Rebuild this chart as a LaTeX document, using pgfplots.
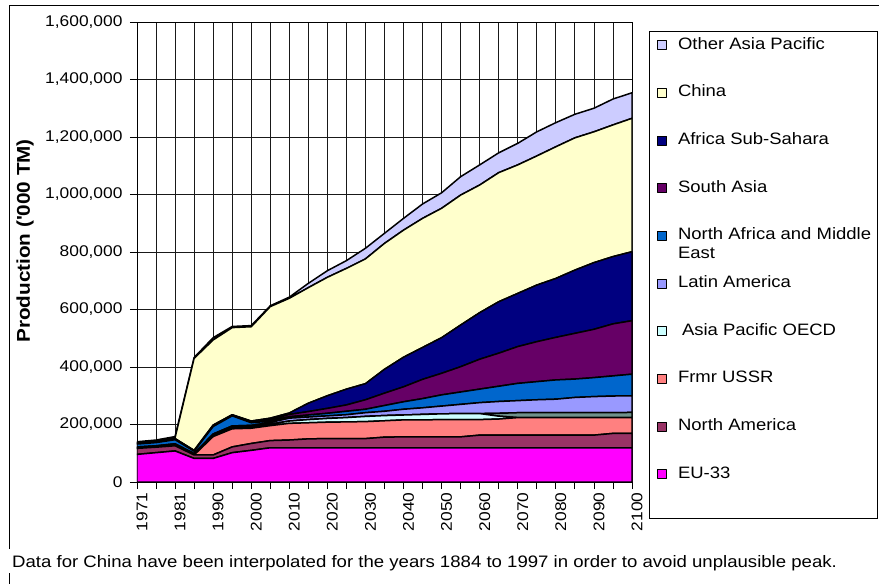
\documentclass[border=0pt]{standalone}
\usepackage{fontspec}
\setmainfont{Liberation Sans}[FakeStretch=1.12]
\usepackage{pgfplots}
\usepackage{pgfplotstable}
\pgfplotsset{compat=1.18}
\definecolor{cEU}{HTML}{FF00FF}
\definecolor{cNA}{HTML}{993366}
\definecolor{cUSSR}{HTML}{FF8080}
\definecolor{cAPO}{HTML}{CCFFFF}
\definecolor{cGREY}{HTML}{6F928C}
\definecolor{cLA}{HTML}{9999FF}
\definecolor{cNAME}{HTML}{0066CC}
\definecolor{cSA}{HTML}{660066}
\definecolor{cASS}{HTML}{000080}
\definecolor{cCHN}{HTML}{FFFFCC}
\definecolor{cOAP}{HTML}{CCCCFF}
\pgfplotstableread{
x EU NA USSR APO GREY LA NAME SA ASS CHN OAP
0 96000 21000 0 2000 0 3000 10000 2000 2000 2000 2000
1 102000 19000 0 2000 0 3000 11000 2000 2000 2000 3000
2 108000 18000 0 3000 0 4000 14000 2000 2000 3000 4000
3 82000 12000 0 2000 0 3000 8000 1000 2000 320000 3000
4 82000 12000 64000 4000 0 5000 26000 2000 3000 296000 8000
5 102000 20000 63000 5000 0 5000 35000 2000 2000 303000 4000
6 110000 24000 53000 5000 0 5000 9000 2000 4000 328000 4000
7 119000 25000 52000 5000 0 6000 5000 4000 6000 388000 3000
8 119000 27000 58000 8000 0 10000 5000 8000 5000 399000 4000
9 119000 31000 56000 11000 0 9000 7000 12000 29000 402000 15000
10 119000 32000 57000 13000 0 9000 9000 17000 44000 412000 23000
11 119000 32000 58000 15000 0 10000 12000 22000 55000 420000 27000
12 119000 32000 59000 18000 0 13000 12000 33000 56000 434000 37000
13 119000 37000 57000 18000 0 15000 20000 43000 83000 438000 35000
14 119000 38000 59000 17000 0 20000 26000 52000 103000 442000 41000
15 119000 38000 59000 19000 0 23000 32000 67000 111000 449000 50000
16 119000 38000 60000 20000 0 27000 39000 75000 124000 450000 54000
17 119000 38000 60000 21000 0 32000 43000 88000 145000 452000 64000
18 119000 44000 54000 21000 0 38000 47000 104000 162000 444000 70000
19 119000 44000 56000 10000 10000 41000 53000 115000 179000 449000 69000
20 119000 44000 61000 0 17000 42000 60000 128000 185000 447000 75000
21 119000 44000 61000 0 17000 45000 63000 139000 197000 449000 84000
22 119000 44000 61000 0 17000 47000 67000 148000 205000 458000 84000
23 119000 44000 61000 0 17000 53000 64000 159000 220000 460000 82000
24 119000 44000 61000 0 17000 56000 66000 168000 232000 455000 82000
25 119000 50000 55000 0 17000 58000 70000 181000 234000 458000 90000
26 119000 50000 55000 0 18000 58000 75000 186000 240000 464000 89000
}\data
\begin{document}
\begin{tikzpicture}
\begin{axis}[
  scale only axis, width=495pt, height=460pt,
  xmin=0, xmax=26, ymin=0, ymax=1600000,
  stack plots=y,
  xtick={0,...,26},
  xticklabels={1971,{},1981,{},1990,{},2000,{},2010,{},2020,{},2030,{},2040,{},2050,{},2060,{},2070,{},2080,{},2090,{},2100},
  ytick={0,200000,...,1600000},
  scaled y ticks=false,
  yticklabel style={/pgf/number format/fixed,/pgf/number format/1000 sep={,}, xshift=-4pt},
  /pgf/number format/assume math mode=true,
  tick label style={font=\fontsize{15.5}{18}\selectfont},
  x tick label style={rotate=90, anchor=east, yshift=-5pt},
  xtick pos=left, ytick pos=left,
  tick align=outside, major tick length=7pt,
  major tick style={black, line width=0.8pt},
  grid=major, major grid style={black!90, line width=0.8pt},
  axis line style={black, line width=0.9pt},
  ylabel={\bfseries Production (\textquotesingle 000 TM)},
  ylabel style={font=\fontsize{18.5}{21}\selectfont, at={(axis description cs:-0.2263,0.524)}, anchor=center},
  legend style={at={(axis description cs:1.0505,0.9678)}, anchor=north west, draw=none, fill=none,
    inner sep=0pt, row sep=31.7pt, column sep=11pt,
    nodes={inner sep=0pt, text height=12pt, text depth=4pt, anchor=west, font=\fontsize{16.5}{19}\selectfont}},
  legend cell align=left,
  reverse legend,
  legend image code/.code={\draw[#1, draw=black, line width=0.8pt] (0pt,-4.5pt) rectangle (9pt,4.5pt);},
  every axis plot/.append style={draw=black, line width=1.5pt, line join=round},
]
\addplot[fill=cEU] table[x=x,y=EU]{\data} \closedcycle;
\addlegendentry{EU-33}
\addplot[fill=cNA] table[x=x,y=NA]{\data} \closedcycle;
\addlegendentry{North America}
\addplot[fill=cUSSR] table[x=x,y=USSR]{\data} \closedcycle;
\addlegendentry{Frmr USSR}
\addplot[fill=cAPO] table[x=x,y=APO]{\data} \closedcycle;
\addlegendentry{\hspace{4pt}Asia Pacific OECD}
\addplot[fill=cGREY, forget plot] table[x=x,y=GREY]{\data} \closedcycle;
\addplot[fill=cLA] table[x=x,y=LA]{\data} \closedcycle;
\addlegendentry{Latin America}
\addplot[fill=cNAME] table[x=x,y=NAME]{\data} \closedcycle;
\addlegendentry{\vtop{\hbox{North Africa and Middle}\hbox{East}}}
\addplot[fill=cSA] table[x=x,y=SA]{\data} \closedcycle;
\addlegendentry{South Asia}
\addplot[fill=cASS] table[x=x,y=ASS]{\data} \closedcycle;
\addlegendentry{Africa Sub-Sahara}
\addplot[fill=cCHN] table[x=x,y=CHN]{\data} \closedcycle;
\addlegendentry{China}
\addplot[fill=cOAP] table[x=x,y=OAP]{\data} \closedcycle;
\addlegendentry{Other Asia Pacific}
\end{axis}
\draw[black, line width=0.9pt] (512pt,451pt) rectangle (740pt,-36pt);
\draw[black, line width=0.9pt] (-128pt,-67pt) -- (-128pt,477pt) -- (742pt,477pt);
\draw[black, line width=0.9pt] (-128pt,-91pt) -- (-128pt,-102pt);
\node[anchor=west, inner sep=0pt, font=\fontsize{16.6}{19}\selectfont] at (-125pt,-81pt) {Data for China have been interpolated for the years 1884 to 1997 in order to avoid unplausible peak.};
\pgfresetboundingbox
\path[use as bounding box] (-137pt,-102pt) rectangle (742pt,482pt);
\end{tikzpicture}
\end{document}
